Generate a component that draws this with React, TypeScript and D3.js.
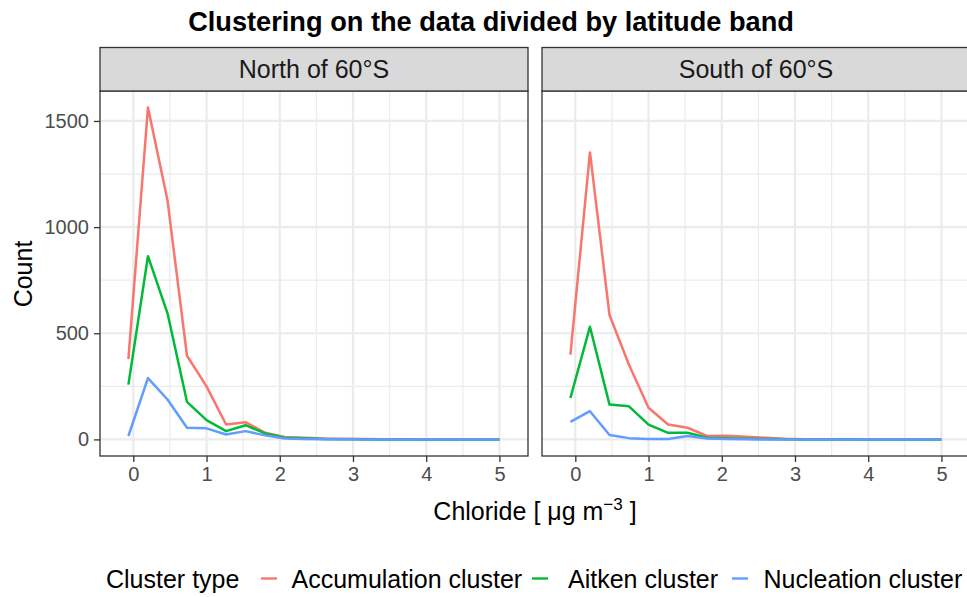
import React, { useEffect, useRef } from "react";
import * as d3 from "d3";

// bin centres of the chloride frequency polygon (µg m-3)
const chlorideBins = [-0.067, 0.2, 0.467, 0.733, 1.0, 1.267, 1.533, 1.8, 2.067, 2.333, 2.6, 2.867, 3.133, 3.4, 3.667, 3.933, 4.2, 4.467, 4.733, 5.0];

const northAccumulation = [378, 1563, 1126, 394, 250, 70, 81, 31, 11, 8, 4, 3, 2, 1, 1, 0, 0, 0, 0, 0];
const northAitken = [258, 863, 594, 177, 91, 39, 67, 28, 8, 5, 2, 1, 1, 0, 0, 0, 0, 0, 0, 0];
const northNucleation = [16, 289, 188, 55, 52, 23, 39, 19, 4, 2, 1, 1, 0, 0, 0, 0, 0, 0, 0, 0];

const southAccumulation = [399, 1352, 586, 352, 149, 70, 55, 16, 17, 12, 8, 3, 1, 1, 0, 0, 0, 0, 0, 0];
const southAitken = [195, 531, 164, 156, 70, 31, 31, 8, 6, 3, 2, 1, 0, 0, 1, 0, 0, 0, 0, 0];
const southNucleation = [83, 133, 21, 6, 2, 2, 16, 4, 2, 1, 0, 0, 0, 0, 0, 0, 0, 0, 0, 0];

const bands = ["North of 60°S", "South of 60°S"];
const clusterTypes = ["Accumulation cluster", "Aitken cluster", "Nucleation cluster"];
const clusterColors = ["#F8766D", "#00BA38", "#619CFF"];
const xTicks = [0, 1, 2, 3, 4, 5];
const xMinor = [0.5, 1.5, 2.5, 3.5, 4.5];
const yTicks = [0, 500, 1000, 1500];
const yMinor = [250, 750, 1250];

const panelSeries = [
  [northAccumulation, northAitken, northNucleation],
  [southAccumulation, southAitken, southNucleation],
];

const FONT = "'Liberation Sans', Arial, Helvetica, sans-serif";

const App = () => {
  const svgRef = useRef<SVGSVGElement>(null);

  useEffect(() => {
    document.body.style.margin = "0";
    const svg = d3.select(svgRef.current);
    svg.selectAll("*").remove();

    const width = 967, height = 597;
    const stripTop = 47.5, panelTop = 91, panelBottom = 456;
    const panels = [{ left: 100, right: 528 }, { left: 542, right: 970 }];

    svg.append("rect").attr("width", width).attr("height", height).attr("fill", "#fff");

    const yMax = d3.max(panelSeries.flat(2)) as number;
    const y = d3.scaleLinear()
      .domain([-0.05 * yMax, 1.05 * yMax])
      .range([panelBottom, panelTop]);

    const xDomain: [number, number] = [-0.455, 5.39];

    panels.forEach((p, i) => {
      const x = d3.scaleLinear().domain(xDomain).range([p.left, p.right]);
      const g = svg.append("g");

      // grid
      g.selectAll(".ymin").data(yMinor).join("line")
        .attr("x1", p.left).attr("x2", p.right)
        .attr("y1", d => y(d)).attr("y2", d => y(d))
        .attr("stroke", "#EBEBEB").attr("stroke-width", 1.2);
      g.selectAll(".xmin").data(xMinor).join("line")
        .attr("y1", panelTop).attr("y2", panelBottom)
        .attr("x1", d => x(d)).attr("x2", d => x(d))
        .attr("stroke", "#EBEBEB").attr("stroke-width", 1.2);
      g.append("g").selectAll("line").data(yTicks).join("line")
        .attr("x1", p.left).attr("x2", p.right)
        .attr("y1", d => y(d)).attr("y2", d => y(d))
        .attr("stroke", "#EBEBEB").attr("stroke-width", 2.2);
      g.append("g").selectAll("line").data(xTicks).join("line")
        .attr("y1", panelTop).attr("y2", panelBottom)
        .attr("x1", d => x(d)).attr("x2", d => x(d))
        .attr("stroke", "#EBEBEB").attr("stroke-width", 2.2);

      // lines
      const line = d3.line<number>()
        .x((_, k) => x(chlorideBins[k]))
        .y(d => y(d));
      g.append("g").selectAll("path").data(panelSeries[i]).join("path")
        .attr("d", d => line(d))
        .attr("fill", "none")
        .attr("stroke", (_, k) => clusterColors[k])
        .attr("stroke-width", 2.5)
        .attr("stroke-linejoin", "round");

      // panel border
      g.append("rect")
        .attr("x", p.left).attr("y", panelTop)
        .attr("width", p.right - p.left).attr("height", panelBottom - panelTop)
        .attr("fill", "none").attr("stroke", "#333").attr("stroke-width", 1.3);

      // strip
      g.append("rect")
        .attr("x", p.left).attr("y", stripTop)
        .attr("width", p.right - p.left).attr("height", panelTop - stripTop)
        .attr("fill", "#D9D9D9").attr("stroke", "#333").attr("stroke-width", 1.3);
      g.append("text")
        .attr("x", (p.left + p.right) / 2).attr("y", 78)
        .attr("text-anchor", "middle")
        .attr("font-family", FONT).attr("font-size", 25)
        .attr("fill", "#1A1A1A")
        .text(bands[i]);

      // x axis
      const xAxis = g.append("g")
        .attr("transform", `translate(0,${panelBottom})`)
        .call(d3.axisBottom(x).tickValues(xTicks).tickSize(6).tickPadding(5).tickFormat(d3.format("d")));
      xAxis.select(".domain").remove();
      xAxis.selectAll("line").attr("stroke", "#333").attr("stroke-width", 1.3);
      xAxis.selectAll("text").attr("font-family", FONT).attr("font-size", 20).attr("fill", "#4D4D4D");

      if (i === 0) {
        const yAxis = g.append("g")
          .attr("transform", `translate(${p.left},0)`)
          .call(d3.axisLeft(y).tickValues(yTicks).tickSize(6).tickPadding(5).tickFormat(d3.format("d")));
        yAxis.select(".domain").remove();
        yAxis.selectAll("line").attr("stroke", "#333").attr("stroke-width", 1.3);
        yAxis.selectAll("text").attr("font-family", FONT).attr("font-size", 20).attr("fill", "#4D4D4D");
      }
    });

    // title
    svg.append("text")
      .attr("x", 491).attr("y", 30.5)
      .attr("text-anchor", "middle")
      .attr("font-family", FONT).attr("font-size", 27.2).attr("font-weight", "bold")
      .attr("fill", "#000")
      .text("Clustering on the data divided by latitude band");

    // y title
    svg.append("text")
      .attr("transform", "translate(31.5,274) rotate(-90)")
      .attr("text-anchor", "middle")
      .attr("font-family", FONT).attr("font-size", 25)
      .attr("fill", "#000")
      .text("Count");

    // x title
    const xt = svg.append("text")
      .attr("x", 535).attr("y", 519.5)
      .attr("text-anchor", "middle")
      .attr("font-family", FONT).attr("font-size", 25)
      .attr("fill", "#000");
    xt.append("tspan").text("Chloride [ μg m");
    xt.append("tspan").attr("dy", -10).attr("font-size", 17).text("−3");
    xt.append("tspan").attr("dy", 10).text(" ]");

    // legend
    const legendY = 587.5;
    svg.append("text")
      .attr("x", 106).attr("y", legendY)
      .attr("font-family", FONT).attr("font-size", 25).attr("fill", "#000")
      .text("Cluster type");
    const keyX = [261, 532, 732];
    const labelX = [291.5, 568, 763.5];
    clusterTypes.forEach((c, k) => {
      svg.append("line")
        .attr("x1", keyX[k]).attr("x2", keyX[k] + 16)
        .attr("y1", 578.5).attr("y2", 578.5)
        .attr("stroke", clusterColors[k]).attr("stroke-width", 2.4);
      svg.append("text")
        .attr("x", labelX[k]).attr("y", legendY)
        .attr("font-family", FONT).attr("font-size", 25).attr("fill", "#000")
        .text(c);
    });
  }, []);

  return <svg ref={svgRef} width={967} height={597} style={{ display: "block" }} />;
};

export default App;
